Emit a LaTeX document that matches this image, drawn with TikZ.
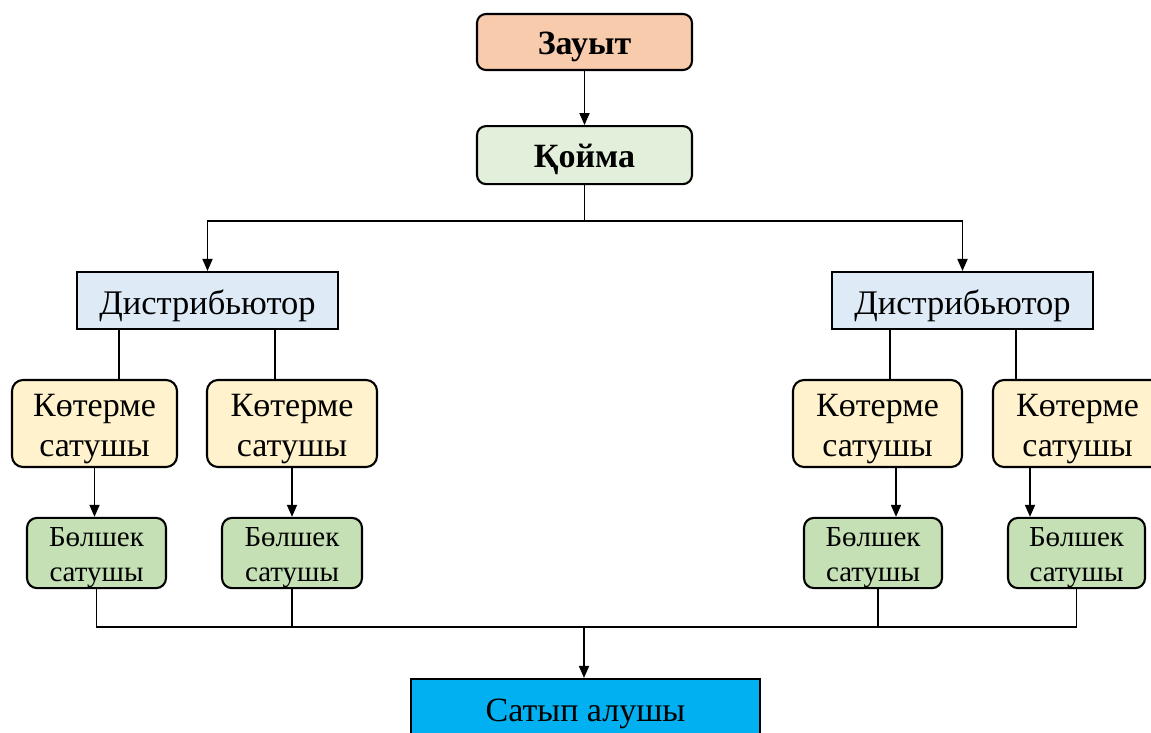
\documentclass[tikz,border=0pt]{standalone}
\usepackage{fontspec}
\setmainfont{Liberation Serif}
\usetikzlibrary{positioning, arrows.meta}

\definecolor{zauytfill}{HTML}{F8CBAD}
\definecolor{koimafill}{HTML}{E2EFDA}
\definecolor{distfill}{HTML}{DEEBF7}
\definecolor{kotfill}{HTML}{FFF2CC}
\definecolor{bolfill}{HTML}{C5E0B4}
\definecolor{satypfill}{HTML}{00B0F0}

% two lines, first one pushed down a little
\newcommand{\twolines}[2]{\rule{0pt}{1em}#1\\#2}

\tikzset{
  box/.style={draw, line width=2.1pt, inner sep=0pt, align=center},
  textdrop/.style={execute at begin node={\rule{0pt}{#1}}},
  topbox/.style={box, rounded corners=9pt, minimum width=215pt, textdrop=0.95em, font=\fontsize{34}{40}\selectfont\bfseries},
  distbox/.style={box, fill=distfill, minimum width=261pt, minimum height=57pt, textdrop=1em, font=\fontsize{34.5}{40}\selectfont},
  kotbox/.style={box, fill=kotfill, rounded corners=11pt, minimum height=87pt, font=\fontsize{34}{40}\selectfont},
  bolbox/.style={box, fill=bolfill, rounded corners=10pt, minimum height=70pt, font=\fontsize{29}{35}\selectfont},
  link/.style={line width=1.8pt}
}

\begin{document}
\begin{tikzpicture}[x=1pt, y=-1pt, >={Triangle[length=12pt, width=10pt]}]
  \clip (0,0) rectangle (1151,733);

  % Nodes
  \node[topbox, fill=zauytfill, minimum height=56pt] (zauyt) at (584.5,42) {Зауыт};
  \node[topbox, fill=koimafill, minimum height=58pt, below=54pt of zauyt] (koima) {Қойма};
  \node[distbox] (distL) at (207.5,300.5) {Дистрибьютор};
  \node[distbox] (distR) at (962.5,300.5) {Дистрибьютор};
  \node[kotbox, minimum width=165pt] (kotL1) at (94.5,423.5) {\twolines{Көтерме}{сатушы}};
  \node[kotbox, minimum width=170pt] (kotL2) at (292,423.5) {\twolines{Көтерме}{сатушы}};
  \node[kotbox, minimum width=169pt] (kotR1) at (877.5,423.5) {\twolines{Көтерме}{сатушы}};
  \node[kotbox, minimum width=169pt] (kotR2) at (1077.5,423.5) {\twolines{Көтерме}{сатушы}};
  \node[bolbox, minimum width=139pt] (bolL1) at (96.5,553) {\twolines{Бөлшек}{сатушы}};
  \node[bolbox, minimum width=140pt] (bolL2) at (292,553) {\twolines{Бөлшек}{сатушы}};
  \node[bolbox, minimum width=138pt] (bolR1) at (873,553) {\twolines{Бөлшек}{сатушы}};
  \node[bolbox, minimum width=137pt] (bolR2) at (1076.5,553) {\twolines{Бөлшек}{сатушы}};
  \node[box, fill=satypfill, minimum width=349pt, minimum height=70pt,
        font=\fontsize{34}{40}\selectfont] (satyp) at (585.5,714) {Сатып алушы};

  % Arrows
  \draw[link, ->] (zauyt) -- (koima);
  \draw[link] (koima.south) -- ++(0,36) coordinate (split);
  \draw[link, ->] (split) -| (distL.north);
  \draw[link, ->] (split) -| (distR.north);

  % Distributor to wholesalers
  \coordinate (dL1) at (119,329);
  \coordinate (dL2) at (275,329);
  \coordinate (dR1) at (890,329);
  \coordinate (dR2) at (1016,329);
  \draw[link] (dL1) -- (dL1 |- kotL1.north);
  \draw[link] (dL2) -- (dL2 |- kotL2.north);
  \draw[link] (dR1) -- (dR1 |- kotR1.north);
  \draw[link] (dR2) -- (dR2 |- kotR2.north);

  % Wholesalers to retailers
  \coordinate (kR1) at (896,467);
  \coordinate (kR2) at (1030,467);
  \draw[link, ->] (kotL1) -- (bolL1.north -| kotL1);
  \draw[link, ->] (kotL2) -- (bolL2);
  \draw[link, ->] (kR1) -- (kR1 |- bolR1.north);
  \draw[link, ->] (kR2) -- (kR2 |- bolR2.north);

  % Retailers to buyer
  \coordinate (join) at (584,627);
  \draw[link] (bolL1.south) |- (join);
  \draw[link] (bolL2.south) |- (join);
  \draw[link] ([xshift=5pt]bolR1.south) |- (join);
  \draw[link] (bolR2.south) |- (join);
  \draw[link, ->] (join) -- (join |- satyp.north);
\end{tikzpicture}
\end{document}
